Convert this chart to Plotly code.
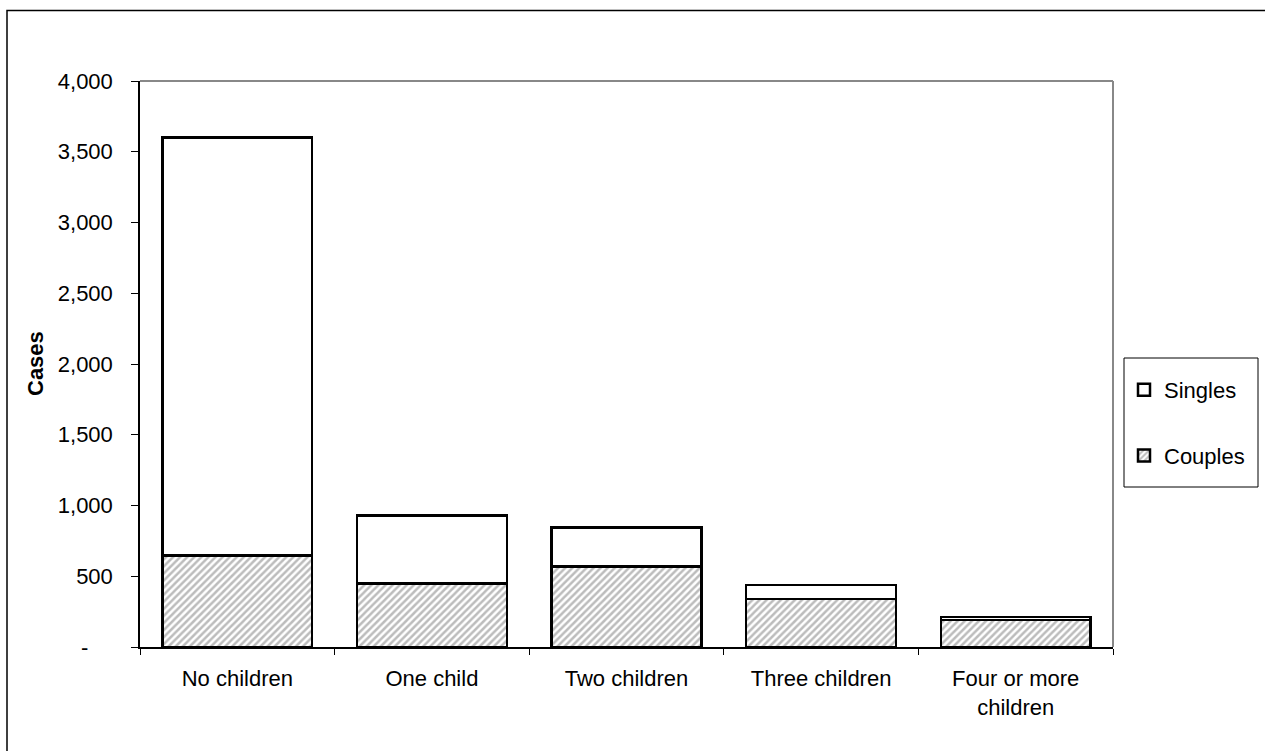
import plotly.graph_objects as go

categories = ["No children", "One child", "Two children", "Three children", "Four or more<br>children"]
couples = [645, 450, 570, 338, 190]
singles = [2955, 480, 275, 100, 22]
tick_vals = [0, 500, 1000, 1500, 2000, 2500, 3000, 3500, 4000]
tick_text = ["-\u00a0\u00a0\u00a0\u00a0", "500", "1,000", "1,500", "2,000", "2,500", "3,000", "3,500", "4,000"]

W, H = 1265, 751
L, R, T, B = 140, 152, 81, 104
pw, ph = W - L - R, H - T - B


def px(x):
    return (x - L) / pw


def py(y):
    return (H - B - y) / ph


FONT = "Liberation Sans, Arial, sans-serif"
FS = 22

fig = go.Figure()
fig.add_trace(go.Bar(
    name="Couples", x=categories, y=couples, legendgroup="c", legendrank=2,
    marker=dict(color="white", line=dict(color="black", width=2.5),
                pattern=dict(shape="/", fgcolor="#7a7a7a", bgcolor="white", size=5, solidity=0.5)),
))
fig.add_trace(go.Bar(
    name="Singles", x=categories, y=singles, legendgroup="s", legendrank=1,
    marker=dict(color="white", line=dict(color="black", width=2.5)),
))

fig.update_layout(
    width=W, height=H,
    margin=dict(l=L, r=R, t=T, b=B, pad=0),
    barmode="stack", bargap=0.23,
    paper_bgcolor="white", plot_bgcolor="white",
    font=dict(family=FONT, size=FS, color="black"),
    showlegend=True,
    legend=dict(x=px(1124), xanchor="left", y=py(369), yanchor="top",
                traceorder="grouped", tracegroupgap=34,
                bgcolor="rgba(0,0,0,0)", borderwidth=0,
                font=dict(family=FONT, size=FS, color="black")),
    xaxis=dict(showline=True, linecolor="black", linewidth=1.5,
               ticks="outside", tickson="boundaries", ticklen=6, tickcolor="black", tickwidth=1,
               showgrid=False, zeroline=False, ticklabelstandoff=11),
    yaxis=dict(range=[0, 4000], tickvals=tick_vals, ticktext=tick_text,
               showline=True, linecolor="black", linewidth=1.5,
               ticks="outside", ticklen=7, tickcolor="black", tickwidth=1,
               showgrid=False, zeroline=False, ticklabelstandoff=14),
    annotations=[dict(text="<b>Cases</b>", textangle=-90, xref="paper", yref="paper",
                      x=px(35), y=0.5, xanchor="center", yanchor="middle", showarrow=False,
                      font=dict(family=FONT, size=FS, color="black"))],
    shapes=[
        dict(type="line", xref="paper", yref="paper", x0=0, x1=1, y0=1, y1=1,
             line=dict(color="#888888", width=2)),
        dict(type="line", xref="paper", yref="paper", x0=1, x1=1, y0=0, y1=1,
             line=dict(color="#888888", width=2)),
        dict(type="rect", xref="paper", yref="paper", x0=px(1124), x1=px(1258), y0=py(487), y1=py(358),
             line=dict(color="black", width=1)),
        dict(type="rect", xref="paper", yref="paper", x0=px(7), x1=px(1275), y0=py(760), y1=py(10.5),
             line=dict(color="black", width=1.5)),
    ],
)

fig.write_html("out.html", config={"displayModeBar": False},
               post_script="document.body.style.margin='0';document.body.style.overflow='hidden';")
